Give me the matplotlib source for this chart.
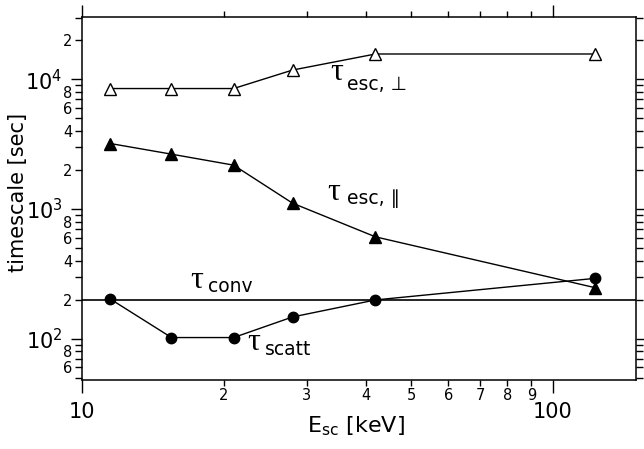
import math
import matplotlib
matplotlib.use('Agg')
import matplotlib.pyplot as plt
from matplotlib.ticker import LogLocator, FuncFormatter

# energies (keV) and timescales (sec)
energy = [11.5, 15.5, 21, 28, 42, 123]
tau_esc_perp = [8500, 8500, 8500, 11800, 15700, 15700]
tau_esc_par = [3200, 2650, 2180, 1110, 610, 247]
tau_scatt = [202, 102, 102, 147, 199, 292]
tau_conv = 200

plt.rcParams['font.family'] = ['DejaVu Sans']

fig = plt.figure(figsize=(6.44, 4.49), dpi=100)
ax = fig.add_axes([0.127, 0.1537, 0.8606, 0.8085])

ax.plot(energy, tau_esc_perp, '-^', color='black', mfc='white', mec='black',
        ms=9, lw=1.0, mew=1.0)
ax.plot(energy, tau_esc_par, '-^', color='black', ms=9, lw=1.0)
ax.plot(energy, tau_scatt, '-o', color='black', ms=7.5, lw=1.0)
ax.axhline(tau_conv, color='black', lw=1.2)

ax.set_xscale('log')
ax.set_yscale('log')
ax.set_xlim(10, 150)
ax.set_ylim(48, 30300)


def lead_digit(v, pos, skip_odd=False):
    e = math.floor(math.log10(v) + 1e-9)
    d = int(round(v / 10 ** e))
    if skip_odd and d % 2 == 1:
        return ''
    return str(d)


ax.xaxis.set_major_locator(LogLocator(base=10, subs=[1.0]))
ax.xaxis.set_minor_locator(LogLocator(base=10, subs=range(2, 10)))
ax.xaxis.set_major_formatter(FuncFormatter(lambda v, p: '%d' % round(v)))
ax.xaxis.set_minor_formatter(FuncFormatter(lead_digit))

ax.yaxis.set_major_locator(LogLocator(base=10, subs=[1.0]))
ax.yaxis.set_minor_locator(LogLocator(base=10, subs=range(2, 10)))
ax.yaxis.set_minor_formatter(FuncFormatter(lambda v, p: lead_digit(v, p, True)))

ax.tick_params(which='both', direction='out', top=True, right=True,
               width=1.0, color='black')
ax.tick_params(axis='x', which='major', length=9, labelsize=15, pad=7)
ax.tick_params(axis='x', which='minor', length=4, labelsize=10.5, pad=2)
ax.tick_params(axis='y', which='major', length=8, labelsize=15, pad=6)
ax.tick_params(axis='y', which='minor', length=5, labelsize=10.5, pad=2)
for s in ax.spines.values():
    s.set_linewidth(1.1)

ax.set_xlabel('E$_{\\rm sc}$ [keV]', fontsize=16)
ax.set_ylabel('timescale [sec]', fontsize=15)
ax.xaxis.set_label_coords(0.495, -0.094)
ax.yaxis.set_label_coords(-0.097, 0.517)

# curve labels
tau_font = dict(family='Liberation Serif', fontsize=23, ha='left', va='baseline')
sub_font = dict(fontsize=13.5, ha='left', va='baseline')
ax.text(33.7, 9890, '\u03c4', **tau_font)
ax.text(36.6, 8280, 'esc, \u22a5', **sub_font)
ax.text(33.2, 1173, '\u03c4', **tau_font)
ax.text(36.6, 1093, 'esc, \u2225', **sub_font)
ax.text(17.0, 245, '\u03c4', **tau_font)
ax.text(18.5, 229, 'conv', **sub_font)
ax.text(22.4, 81.7, '\u03c4', **tau_font)
ax.text(24.5, 74.6, 'scatt', **sub_font)

fig.savefig('out.png', dpi=100)
